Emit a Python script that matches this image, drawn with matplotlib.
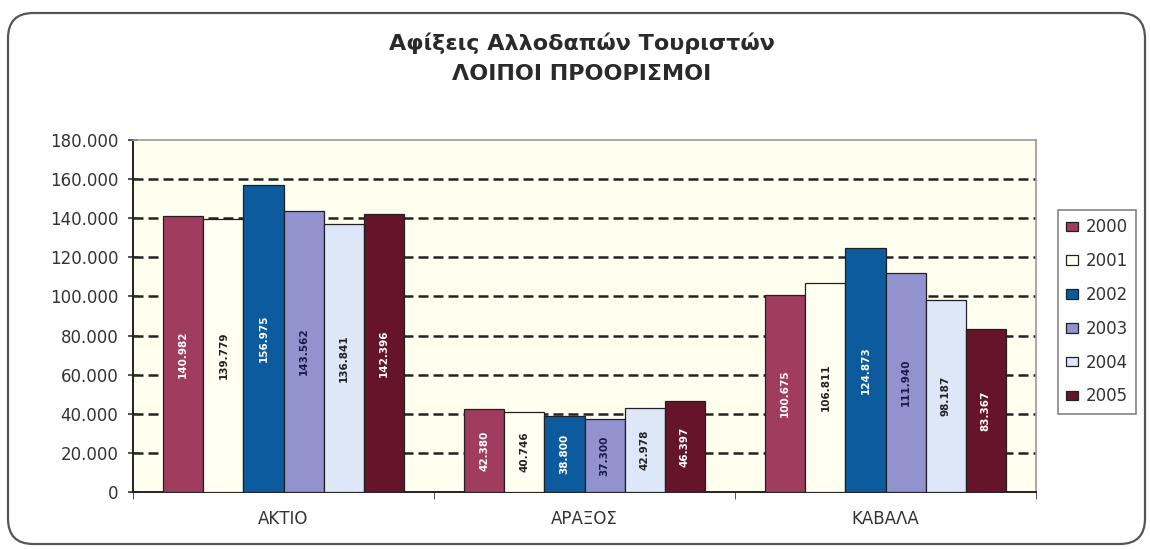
import numpy as np
import matplotlib.pyplot as plt
from matplotlib.patches import FancyBboxPatch
from matplotlib.ticker import FuncFormatter

# Δεδομένα (εκτίμηση από το γράφημα)
proorismoi = ['ΑΚΤΙΟ', 'ΑΡΑΞΟΣ', 'ΚΑΒΑΛΑ']
eti = ['2000', '2001', '2002', '2003', '2004', '2005']
afixeis_2000 = [140982, 42380, 100675]
afixeis_2001 = [139779, 40746, 106811]
afixeis_2002 = [156975, 38800, 124873]
afixeis_2003 = [143562, 37300, 111940]
afixeis_2004 = [136841, 42978, 98187]
afixeis_2005 = [142396, 46397, 83367]
xromata = ['#A03C5E', '#FFFFF2', '#0B5B9E', '#9292CE', '#DDE7F7', '#66142A']
xromata_keimenou = ['white', '#222222', 'white', '#1a1a4a', '#222222', 'white']

seires = [afixeis_2000, afixeis_2001, afixeis_2002,
          afixeis_2003, afixeis_2004, afixeis_2005]


def teleies(v):
    # διαχωριστικό χιλιάδων με τελεία
    return f'{int(round(v)):,}'.replace(',', '.')


fig = plt.figure(figsize=(11.5, 5.49), dpi=100)
fig.patch.set_facecolor('white')

# στρογγυλεμένο πλαίσιο γύρω από το γράφημα
plaisio = FancyBboxPatch((8 / 1150, 5 / 549), 1137 / 1150, 531 / 549,
                         boxstyle='round,pad=0,rounding_size=0.022',
                         transform=fig.transFigure, facecolor='none',
                         edgecolor='#555555', linewidth=1.6, mutation_aspect=2.1)
fig.patches.append(plaisio)

ax = fig.add_axes([0.1157, 0.1038, 0.7852, 0.6412])
ax.set_facecolor('#FFFFF0')

n = len(seires)
platos = 1 / (n + 1.5)
x = np.arange(len(proorismoi))

for i, (timi, xr, xk) in enumerate(zip(seires, xromata, xromata_keimenou)):
    thesi = x + (i - (n - 1) / 2) * platos
    bars = ax.bar(thesi, timi, width=platos, color=xr, edgecolor='#202020',
                  linewidth=0.9, label=eti[i], zorder=3)
    for b, v in zip(bars, timi):
        ax.text(b.get_x() + b.get_width() / 2, v / 2, teleies(v),
                rotation=90, ha='center', va='center', fontsize=7.5,
                fontweight='bold', color=xk, zorder=4)

ax.set_xlim(-0.5, len(proorismoi) - 0.5)
ax.set_ylim(0, 180000)
ax.set_yticks(np.arange(0, 180001, 20000))
ax.yaxis.set_major_formatter(FuncFormatter(lambda v, p: teleies(v)))
ax.set_xticks(x)
ax.set_xticklabels(proorismoi)
ax.set_xticks(np.arange(-0.5, len(proorismoi)), minor=True)
ax.tick_params(axis='x', which='major', length=0, pad=13, labelsize=12, colors='#333333')
ax.tick_params(axis='x', which='minor', length=5, direction='out', color='#333333')
ax.tick_params(axis='y', length=7, width=1.2, direction='inout', pad=7,
               labelsize=12, colors='#333333')

for g in range(20000, 180000, 20000):
    ax.axhline(g, color='#222222', linestyle=(0, (4, 2)), linewidth=1.8, zorder=1)

for s in ['top', 'right']:
    ax.spines[s].set_color('#999999')
    ax.spines[s].set_linewidth(1.2)
for s in ['left', 'bottom']:
    ax.spines[s].set_color('#222222')
    ax.spines[s].set_linewidth(1.4)

fig.text(0.506, 0.922, 'Αφίξεις Αλλοδαπών Τουριστών', ha='center', va='center',
         fontsize=16, fontweight='bold', color='#2a2a2a')
fig.text(0.506, 0.865, 'ΛΟΙΠΟΙ ΠΡΟΟΡΙΣΜΟΙ', ha='center', va='center',
         fontsize=16, fontweight='bold', color='#2a2a2a')

leg = fig.legend(loc='center left', bbox_to_anchor=(0.92, 0.432), fontsize=12,
                 handlelength=0.7, handleheight=0.5, labelspacing=0.95,
                 handletextpad=0.45, borderpad=0.5, borderaxespad=0,
                 fancybox=False, edgecolor='#666666')
leg.get_frame().set_linewidth(1.2)
for t in leg.get_texts():
    t.set_color('#333333')

fig.savefig('out.png', dpi=100)
